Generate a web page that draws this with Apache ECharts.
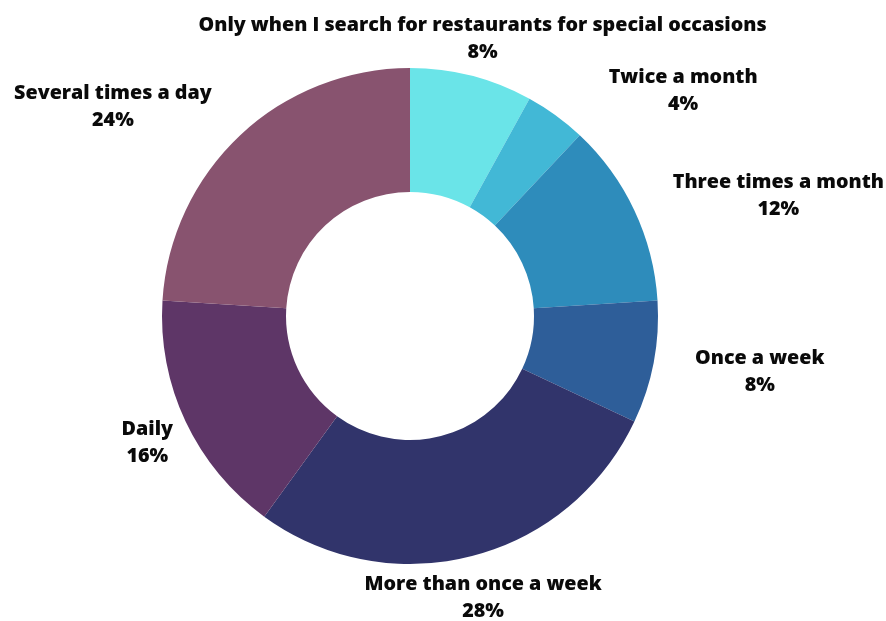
<!DOCTYPE html>
<html>
<head>
<meta charset="utf-8">
<script src="https://cdn.jsdelivr.net/npm/echarts@6/dist/echarts.min.js"></script>
<style>
  html, body { margin: 0; padding: 0; background: #ffffff; }
  #chart { width: 886px; height: 621px; }
</style>
</head>
<body>
<div id="chart"></div>
<script>
// Survey answers: how often people look for restaurants
const categories = [
  'Only when I search for restaurants for special occasions',
  'Twice a month',
  'Three times a month',
  'Once a week',
  'More than once a week',
  'Daily',
  'Several times a day'
];
const shares = [8, 4, 12, 8, 28, 16, 24];
const sliceColors = ['#6ae4e8', '#42b8d6', '#2e8cbb', '#2e5e99', '#31346b', '#5e3667', '#88536f'];

// Where each label block sits around the ring: [angle clockwise from 12 o'clock, distance from centre]
const labelPlacement = [
  [14.6, 288], [50.3, 355], [71.7, 388], [98.9, 354], [165.4, 290], [244.5, 291], [305.3, 364]
];

const CX = 410, CY = 316;
const LABEL_NUDGE_Y = 1.5;

const chart = echarts.init(document.getElementById('chart'), null, { renderer: 'canvas' });

chart.setOption({
  backgroundColor: '#ffffff',
  animation: false,
  series: [{
    type: 'pie',
    center: [CX, CY],
    radius: [124, 248],
    startAngle: 90,
    clockwise: true,
    avoidLabelOverlap: false,
    data: categories.map((name, i) => ({
      name: name,
      value: shares[i],
      itemStyle: { color: sliceColors[i] }
    })),
    label: {
      show: true,
      position: 'outside',
      formatter: p => p.name + '\n' + p.value + '%',
      fontFamily: '"Open Sans", sans-serif',
      fontWeight: 800,
      fontSize: 19.7,
      lineHeight: 27,
      color: '#0a0a0a',
      align: 'center'
    },
    labelLine: { show: false },
    labelLayout: function (params) {
      const pl = labelPlacement[params.dataIndex];
      const a = pl[0] * Math.PI / 180;
      return {
        x: CX + pl[1] * Math.sin(a),
        y: CY - pl[1] * Math.cos(a) + LABEL_NUDGE_Y,
        align: 'center',
        verticalAlign: 'middle'
      };
    },
    emphasis: { disabled: true }
  }]
});
</script>
</body>
</html>
